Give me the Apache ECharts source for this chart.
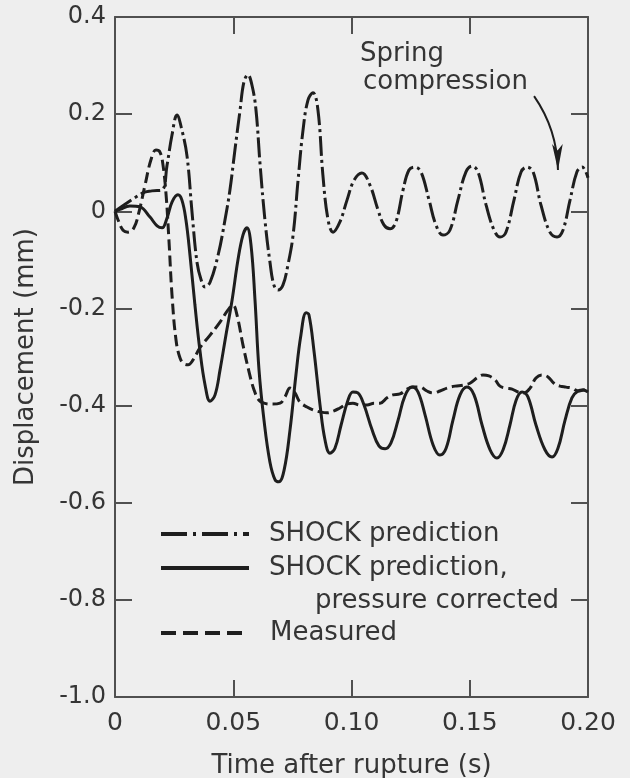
<!DOCTYPE html>
<html>
<head>
<meta charset="utf-8">
<script src="https://cdn.jsdelivr.net/npm/echarts@6/dist/echarts.min.js"></script>
<style>
html, body { margin: 0; padding: 0; background: #eeeeee; }
#chart { width: 630px; height: 778px; }
</style>
</head>
<body>
<div id="chart"></div>
<script>
// [time (s), displacement (mm)]
var shockPoints = [
  [0, 0], [0.0118, 0.038], [0.0156, 0.042], [0.0199, 0.044], [0.0220, 0.095], [0.0241, 0.157],
  [0.0262, 0.198], [0.0283, 0.167], [0.0305, 0.112], [0.0326, -0.004], [0.0347, -0.106],
  [0.0364, -0.141], [0.0381, -0.156], [0.0402, -0.146], [0.0436, -0.09], [0.0465, -0.018],
  [0.0486, 0.044], [0.0507, 0.126], [0.0529, 0.209], [0.0545, 0.266], [0.0562, 0.281],
  [0.0579, 0.26], [0.0596, 0.209], [0.0613, 0.099], [0.0634, -0.018], [0.0655, -0.104],
  [0.0672, -0.152], [0.0689, -0.162], [0.0710, -0.152], [0.0731, -0.111], [0.0753, -0.049],
  [0.0774, 0.064], [0.0795, 0.167], [0.0816, 0.229], [0.0837, 0.244], [0.0858, 0.209],
  [0.0879, 0.075], [0.0901, -0.018], [0.0922, -0.043], [0.0951, -0.022], [0.0981, 0.023],
  [0.1011, 0.064], [0.1044, 0.079], [0.1078, 0.054], [0.1112, 0.003], [0.1137, -0.028],
  [0.1163, -0.036], [0.1188, -0.022], [0.1218, 0.044], [0.1243, 0.085], [0.1268, 0.091],
  [0.1294, 0.081], [0.1328, 0.023], [0.1357, -0.028], [0.1387, -0.049], [0.1416, -0.039],
  [0.1450, 0.023], [0.1484, 0.081], [0.1510, 0.093], [0.1535, 0.081], [0.1569, 0.013],
  [0.1603, -0.039], [0.1628, -0.053], [0.1653, -0.043], [0.1687, 0.023], [0.1717, 0.081],
  [0.1742, 0.091], [0.1768, 0.081], [0.1801, 0.013], [0.1839, -0.043], [0.1869, -0.053],
  [0.1894, -0.039], [0.1924, 0.023], [0.1953, 0.081], [0.1975, 0.091], [0.2000, 0.069]
];

var correctedPoints = [
  [0, 0], [0.0021, 0.004], [0.0063, 0.011], [0.0106, 0.009], [0.0148, -0.012], [0.0178, -0.030],
  [0.0199, -0.034], [0.0220, -0.014], [0.0241, 0.019], [0.0266, 0.034], [0.0283, 0.023],
  [0.0300, -0.018], [0.0317, -0.09], [0.0338, -0.193], [0.0359, -0.286], [0.0381, -0.358],
  [0.0402, -0.391], [0.0423, -0.378], [0.0444, -0.327], [0.0469, -0.255], [0.0495, -0.183],
  [0.0520, -0.1], [0.0541, -0.049], [0.0558, -0.034], [0.0575, -0.069], [0.0592, -0.183],
  [0.0609, -0.327], [0.0630, -0.43], [0.0655, -0.516], [0.0677, -0.553], [0.0693, -0.557],
  [0.0715, -0.533], [0.0740, -0.45], [0.0765, -0.337], [0.0786, -0.255], [0.0808, -0.209],
  [0.0820, -0.213], [0.0841, -0.286], [0.0867, -0.399], [0.0888, -0.471], [0.0909, -0.498],
  [0.0930, -0.488], [0.0956, -0.44], [0.0985, -0.389], [0.1006, -0.372], [0.1027, -0.374],
  [0.1053, -0.399], [0.1087, -0.45], [0.1116, -0.483], [0.1142, -0.489], [0.1167, -0.477],
  [0.1197, -0.43], [0.1226, -0.38], [0.1256, -0.362], [0.1281, -0.372], [0.1311, -0.419],
  [0.1345, -0.481], [0.1374, -0.502], [0.1400, -0.488], [0.1429, -0.43], [0.1459, -0.378],
  [0.1488, -0.362], [0.1518, -0.378], [0.1552, -0.44], [0.1586, -0.491], [0.1615, -0.508],
  [0.1641, -0.491], [0.1670, -0.44], [0.1696, -0.389], [0.1721, -0.372], [0.1746, -0.382],
  [0.1780, -0.44], [0.1818, -0.491], [0.1848, -0.506], [0.1873, -0.488], [0.1903, -0.43],
  [0.1932, -0.384], [0.1958, -0.37], [0.1979, -0.368], [0.2000, -0.372]
];

var measuredPoints = [
  [0, 0], [0.0013, -0.018], [0.0034, -0.039], [0.0055, -0.043], [0.0080, -0.034], [0.0101, -0.002],
  [0.0127, 0.054], [0.0152, 0.106], [0.0173, 0.126], [0.0190, 0.122], [0.0203, 0.095],
  [0.0216, 0.034], [0.0228, -0.059], [0.0241, -0.172], [0.0258, -0.265], [0.0275, -0.302],
  [0.0292, -0.314], [0.0309, -0.316], [0.0330, -0.306], [0.0359, -0.281], [0.0402, -0.255],
  [0.0444, -0.228], [0.0478, -0.203], [0.0499, -0.193], [0.0516, -0.214], [0.0541, -0.275],
  [0.0567, -0.331], [0.0588, -0.368], [0.0609, -0.389], [0.0630, -0.395], [0.0664, -0.397],
  [0.0698, -0.395], [0.0719, -0.382], [0.0740, -0.364], [0.0761, -0.374], [0.0782, -0.393],
  [0.0812, -0.403], [0.0837, -0.409], [0.0867, -0.413], [0.0896, -0.415], [0.0926, -0.411],
  [0.0951, -0.405], [0.0981, -0.397], [0.1006, -0.395], [0.1036, -0.399], [0.1066, -0.399],
  [0.1095, -0.395], [0.1121, -0.395], [0.1150, -0.384], [0.1175, -0.378], [0.1205, -0.376],
  [0.1235, -0.366], [0.1260, -0.362], [0.1290, -0.362], [0.1319, -0.37], [0.1345, -0.374],
  [0.1374, -0.37], [0.1404, -0.364], [0.1438, -0.36], [0.1471, -0.358], [0.1501, -0.354],
  [0.1531, -0.343], [0.1556, -0.337], [0.1581, -0.339], [0.1607, -0.347], [0.1628, -0.36],
  [0.1653, -0.364], [0.1679, -0.366], [0.1704, -0.372], [0.1729, -0.374], [0.1755, -0.364],
  [0.1780, -0.343], [0.1805, -0.337], [0.1831, -0.341], [0.1856, -0.354], [0.1882, -0.36],
  [0.1907, -0.362], [0.1932, -0.364], [0.1958, -0.37], [0.1979, -0.368], [0.2000, -0.366]
];

// annotation arrow, from the text down to the dash-dot curve
var arrowPoints = [[0.1772, 0.237], [0.1873, 0.085]];
var annotationAt = [0.1036, 0.324];

var font = 'DejaVu Sans';
var ink = '#1e1e1e';
var textInk = '#353535';
var frame = '#505050';

function xLabel(v) { return v === 0 ? '0' : v.toFixed(2); }
function yLabel(v) { return Math.abs(v) < 1e-9 ? '0' : v.toFixed(1); }

function axisBase(extra) {
  var a = {
    type: 'value',
    axisLine: { show: true, onZero: false, lineStyle: { color: frame, width: 2 } },
    axisTick: { show: true, inside: true, length: 17, lineStyle: { color: frame, width: 2 } },
    splitLine: { show: false }
  };
  for (var k in extra) a[k] = extra[k];
  return a;
}

var chart = echarts.init(document.getElementById('chart'));
chart.setOption({
  backgroundColor: '#eeeeee',
  animation: false,
  grid: { left: 115, right: 42, top: 17, bottom: 81, containLabel: false, outerBoundsMode: 'none' },
  xAxis: [
    axisBase({
      min: 0, max: 0.2, interval: 0.05, position: 'bottom',
      name: 'Time after rupture (s)', nameLocation: 'middle', nameGap: 56,
      nameTextStyle: { fontFamily: font, fontSize: 26, color: textInk },
      axisLabel: { margin: 14, fontFamily: font, fontSize: 25, color: textInk, formatter: xLabel }
    }),
    axisBase({
      min: 0, max: 0.2, interval: 0.05, position: 'top',
      axisLabel: { show: false }
    })
  ],
  yAxis: [
    axisBase({
      min: -1, max: 0.4, interval: 0.2, position: 'left',
      name: 'Displacement (mm)', nameLocation: 'middle', nameGap: 76,
      nameTextStyle: { fontFamily: font, fontSize: 26, color: textInk },
      axisLabel: { margin: 9, fontFamily: font, fontSize: 24, color: textInk, formatter: yLabel }
    }),
    axisBase({
      min: -1, max: 0.4, interval: 0.2, position: 'right',
      axisLabel: { show: false }
    })
  ],
  series: [
    {
      name: 'SHOCK prediction',
      type: 'line',
      data: shockPoints,
      smooth: 0.4,
      showSymbol: false,
      lineStyle: { color: ink, width: 3, type: [20, 4, 3, 4] }
    },
    {
      name: 'SHOCK prediction, pressure corrected',
      type: 'line',
      data: correctedPoints,
      smooth: 0.4,
      showSymbol: false,
      lineStyle: { color: ink, width: 3 }
    },
    {
      name: 'Measured',
      type: 'line',
      data: measuredPoints,
      smooth: 0.4,
      showSymbol: false,
      lineStyle: { color: ink, width: 3, type: [11, 5] }
    },
    {
      type: 'lines',
      coordinateSystem: 'cartesian2d',
      symbol: ['none', 'arrow'],
      symbolSize: [0, [8, 26]],
      lineStyle: { color: ink, width: 2, curveness: 0.15, opacity: 1 },
      data: [{ coords: arrowPoints }]
    }
  ]
});

// legend and annotation text
var anchor = chart.convertToPixel({ gridIndex: 0 }, annotationAt);
var legendText = { fontFamily: font, fontSize: 26, fill: textInk, verticalAlign: 'middle' };
function txt(x, y, s) {
  var st = { text: s, x: x, y: y };
  for (var k in legendText) st[k] = legendText[k];
  return { type: 'text', style: st };
}
function sample(y, dash) {
  return {
    type: 'line',
    shape: { x1: 161, y1: y, x2: 249, y2: y },
    style: { stroke: ink, lineWidth: 4, lineDash: dash }
  };
}
chart.setOption({
  graphic: [
    sample(534, [26, 6, 3, 6]),
    txt(269, 534, 'SHOCK prediction'),
    sample(568, null),
    txt(269, 568, 'SHOCK prediction,'),
    txt(315, 601, 'pressure corrected'),
    sample(633, [15, 7]),
    txt(270, 633, 'Measured'),
    txt(anchor[0], anchor[1], 'Spring'),
    txt(anchor[0] + 3, anchor[1] + 28, 'compression')
  ]
});
</script>
</body>
</html>
